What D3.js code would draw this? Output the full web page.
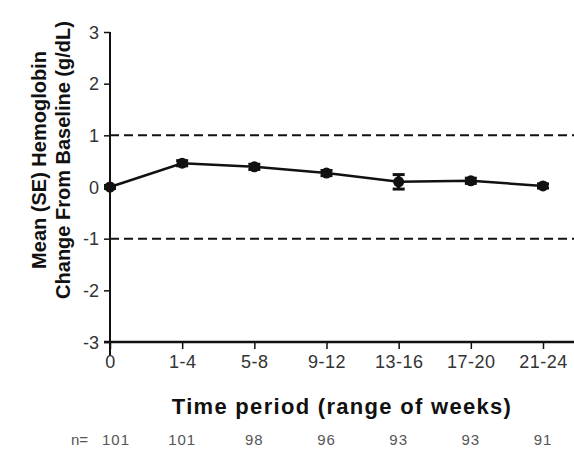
<!DOCTYPE html>
<html>
<head>
<meta charset="utf-8">
<script src="https://cdn.jsdelivr.net/npm/d3@7"></script>
<style>
  body { margin: 0; background: #fff; }
  svg { display: block; font-family: "Liberation Sans", Arial, sans-serif; }
</style>
</head>
<body>
<div id="chart"></div>
<script>
var periods = ["0", "1-4", "5-8", "9-12", "13-16", "17-20", "21-24"];
var means = [0, 0.46, 0.39, 0.27, 0.10, 0.12, 0.02];
var se = [0.03, 0.05, 0.05, 0.05, 0.14, 0.05, 0.04];
var nCounts = [101, 101, 98, 96, 93, 93, 91];
var yTicks = [-3, -2, -1, 0, 1, 2, 3];
var refLines = [1, -1];

var width = 574, height = 453;
var margin = {left: 110, top: 32, bottom: 111};

var svg = d3.select("#chart").append("svg")
  .attr("width", width)
  .attr("height", height);

var x = d3.scalePoint()
  .domain(periods)
  .range([110, 543]);

var y = d3.scaleLinear()
  .domain([-3, 3])
  .range([height - margin.bottom, margin.top]);

// dashed reference lines
svg.selectAll(".ref")
  .data(refLines)
  .enter().append("line")
  .attr("x1", margin.left)
  .attr("x2", width)
  .attr("y1", d => y(d))
  .attr("y2", d => y(d))
  .attr("stroke", "#111")
  .attr("stroke-width", 2)
  .attr("stroke-dasharray", "9,5");

// y axis (hyphen for minus, like the original)
var yAxis = svg.append("g")
  .attr("transform", "translate(" + margin.left + ",0)")
  .call(d3.axisLeft(y).tickValues(yTicks).tickSize(6).tickPadding(5)
    .tickFormat(d => String(d)));
yAxis.select(".domain").attr("stroke-width", 2).attr("d", "M0," + y(3) + "V" + (y(-3) + 14));
yAxis.selectAll(".tick line").attr("stroke-width", 1.5);
yAxis.selectAll("text").style("font-size", "18px").attr("fill", "#333").attr("dy", "0.35em");

// x axis
var xAxis = svg.append("g")
  .attr("transform", "translate(0," + y(-3) + ")")
  .call(d3.axisBottom(x).tickSize(7).tickPadding(6));
xAxis.select(".domain").attr("stroke-width", 2.5).attr("d", "M" + (margin.left - 6) + ",0H" + width);
xAxis.selectAll(".tick line").attr("stroke-width", 1.5);
xAxis.selectAll("text").style("font-size", "18px").style("letter-spacing", "0.5px").attr("fill", "#333");
xAxis.selectAll(".domain, .tick line").attr("stroke", "#111");
yAxis.selectAll(".domain, .tick line").attr("stroke", "#111");

// line
var line = d3.line()
  .x((d, i) => x(periods[i]))
  .y(d => y(d));

svg.append("path")
  .datum(means)
  .attr("d", line)
  .attr("fill", "none")
  .attr("stroke", "#111")
  .attr("stroke-width", 2.5);

// error bars
var eb = svg.selectAll(".eb")
  .data(means)
  .enter().append("g");
eb.append("line")
  .attr("x1", (d, i) => x(periods[i]))
  .attr("x2", (d, i) => x(periods[i]))
  .attr("y1", (d, i) => y(d - se[i]))
  .attr("y2", (d, i) => y(d + se[i]))
  .attr("stroke", "#111")
  .attr("stroke-width", 3);
[1, -1].forEach(function(s) {
  eb.append("line")
    .attr("x1", (d, i) => x(periods[i]) - 6)
    .attr("x2", (d, i) => x(periods[i]) + 6)
    .attr("y1", (d, i) => y(d + s * se[i]))
    .attr("y2", (d, i) => y(d + s * se[i]))
    .attr("stroke", "#111")
    .attr("stroke-width", 3);
});

// points
svg.selectAll(".pt")
  .data(means)
  .enter().append("circle")
  .attr("cx", (d, i) => x(periods[i]))
  .attr("cy", d => y(d))
  .attr("r", 5.5)
  .attr("fill", "#111");

// y title
var yTitle = svg.append("text")
  .attr("transform", "translate(46,160) rotate(-90)")
  .attr("text-anchor", "middle")
  .style("font-size", "20px")
  .style("font-weight", "bold")
  .attr("fill", "#111");
yTitle.append("tspan").attr("x", 0).attr("dy", 0).text("Mean (SE) Hemoglobin");
yTitle.append("tspan").attr("x", 0).attr("dy", 24).text("Change From Baseline (g/dL)");

// x title
svg.append("text")
  .attr("x", 342)
  .attr("y", 414)
  .attr("text-anchor", "middle")
  .style("font-size", "22px")
  .style("font-weight", "bold")
  .style("letter-spacing", "1.3px")
  .attr("fill", "#111")
  .text("Time period (range of weeks)");

// n row
svg.selectAll(".n")
  .data(nCounts)
  .enter().append("text")
  .attr("x", (d, i) => x(periods[i]) + (i === 0 ? 6 : 0))
  .attr("y", 445)
  .attr("text-anchor", "middle")
  .style("font-size", "15px")
  .style("letter-spacing", "1px")
  .attr("fill", "#555")
  .text(d => d);
svg.append("text")
  .attr("x", x(periods[0]) - 22)
  .attr("y", 445)
  .attr("text-anchor", "end")
  .style("font-size", "15px")
  .attr("fill", "#555")
  .text("n=");
</script>
</body>
</html>
